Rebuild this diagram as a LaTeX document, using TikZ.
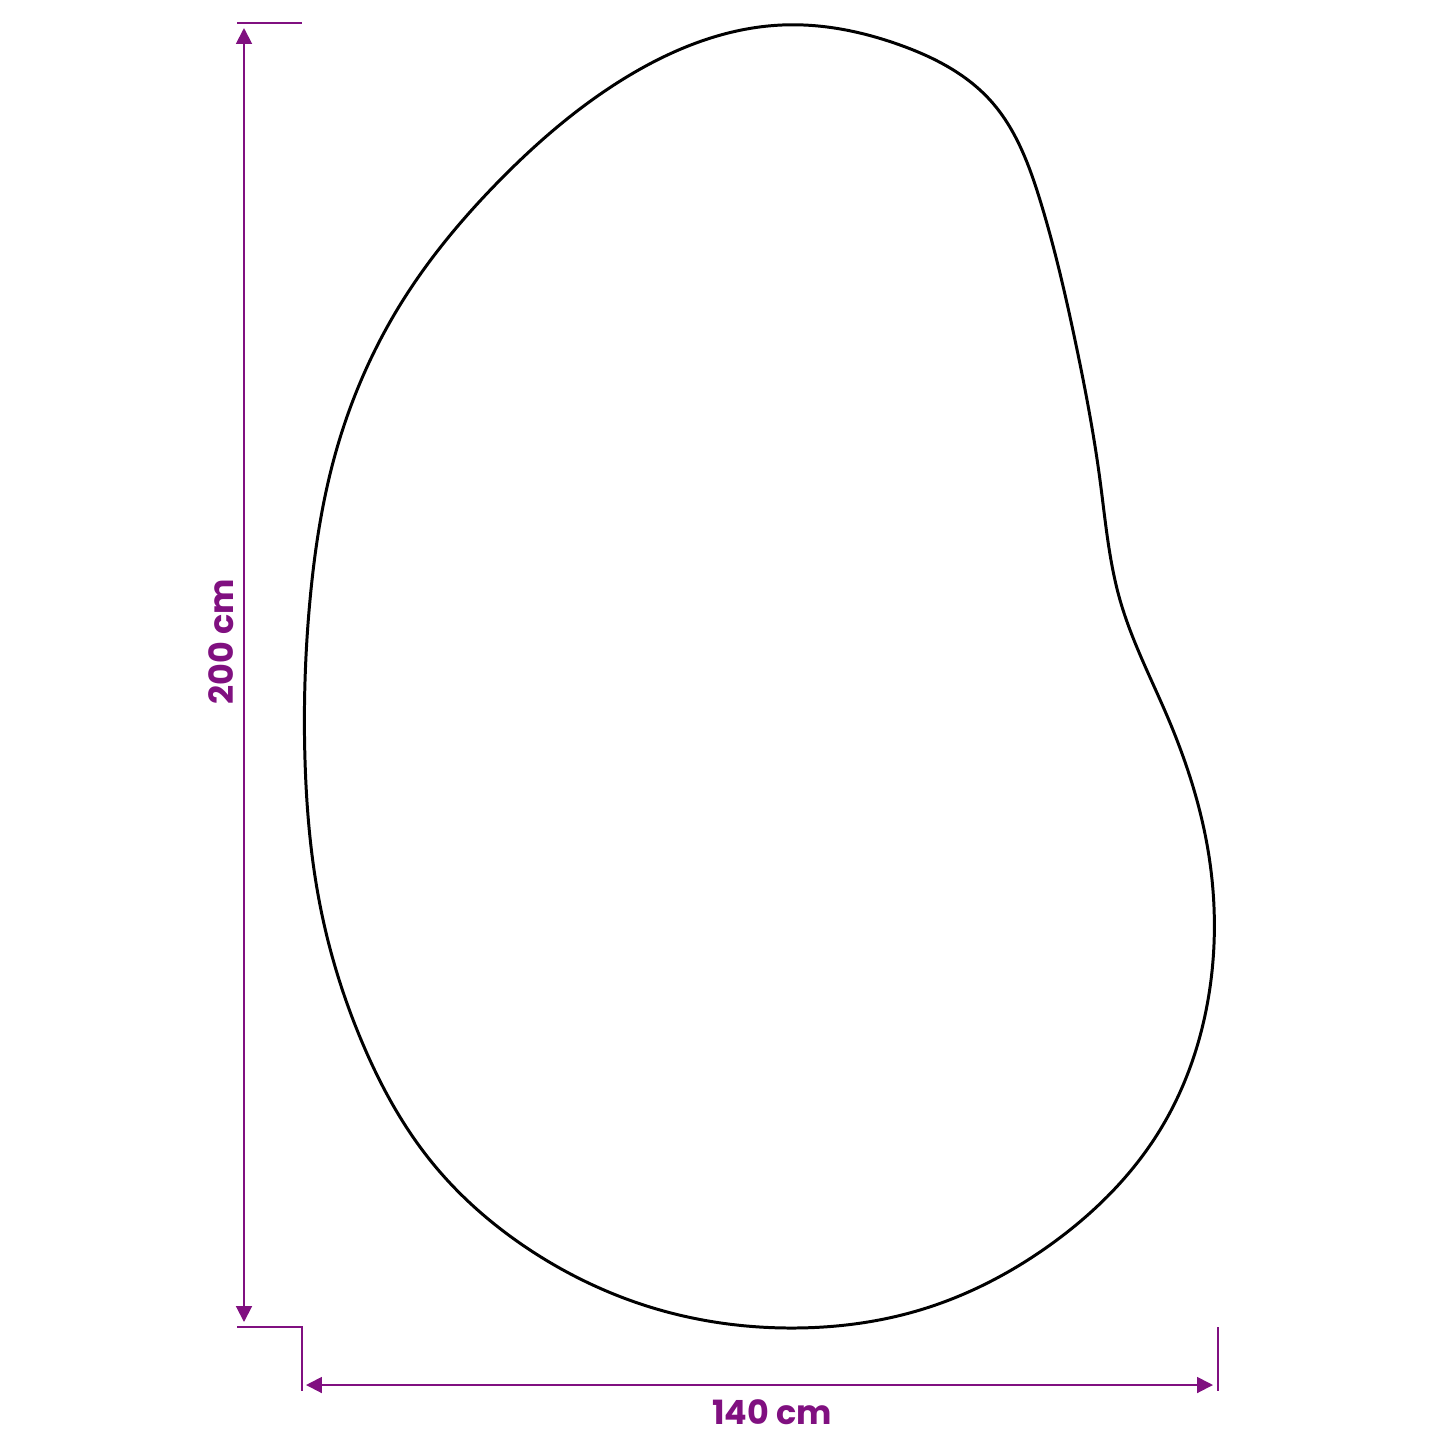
\documentclass[tikz,border=0pt]{standalone}
\usepackage{fontspec}
\setmainfont{Poppins}
\usetikzlibrary{arrows.meta,hobby}
\definecolor{dimpurple}{RGB}{128,16,128}
\begin{document}
\begin{tikzpicture}[x=0.02cm,y=-0.02cm,
  dimline/.style={draw=dimpurple,line width=1.1pt},
  dimarrow/.style={dimline,{Triangle[length=9pt,width=9pt]}-{Triangle[length=9pt,width=9pt]}},
  dimlabel/.style={text=dimpurple,font=\bfseries\fontsize{19}{22}\selectfont,inner sep=0pt},
  outline/.style={draw=black,line width=1.7pt}]
\useasboundingbox (0,0) rectangle (1445,1445);
% shape
\draw[outline,use Hobby shortcut,closed=true]
(782,25) .. (900,45) .. (990,100) .. (1040,200) .. (1075,340) .. (1100,480)
.. (1120,600) .. (1168,718) .. (1208,850) .. (1208,1000) .. (1160,1130)
.. (1050,1245) .. (920,1310) .. (795,1328) .. (660,1310) .. (530,1250)
.. (430,1160) .. (362,1042) .. (320,905) .. (305,760) .. (310,600)
.. (335,455) .. (400,305) .. (500,180) .. (625,78);
% extension lines
\coordinate (tl) at (237,23);
\coordinate (tr) at (302,23);
\coordinate (bl) at (237,1327);
\coordinate (bc) at (302,1327);
\coordinate (bb) at (302,1391);
\coordinate (rt) at (1218,1327);
\coordinate (rb) at (1218,1391);
\draw[dimline] (tl) -- (tr);
\draw[dimline] (bl) -- (bc) -- (bb);
\draw[dimline] (rt) -- (rb);
% arrows
\coordinate (vt) at (244,28);
\coordinate (vb) at (244,1322);
\coordinate (hl) at (306,1385);
\coordinate (hr) at (1213,1385);
\draw[dimarrow] (vt) -- (vb);
\draw[dimarrow] (hl) -- (hr);
% labels
\node[dimlabel] (w) at (772,1412) {140 cm};
\node[dimlabel,rotate=90] (h) at (221,642) {200 cm};
\end{tikzpicture}
\end{document}
